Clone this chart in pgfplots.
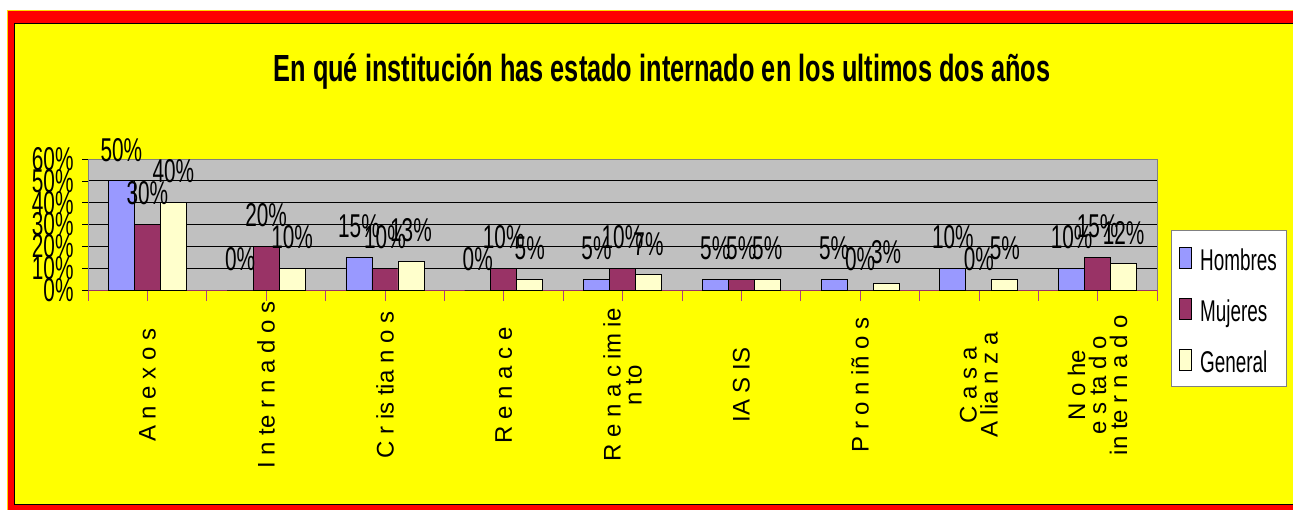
\documentclass[border=0pt]{standalone}
\usepackage{fontspec}
\setmainfont{Liberation Sans}
\newfontfamily\narrowfont[FakeStretch=0.63]{Liberation Sans}
\newfontfamily\titlefont[FakeStretch=0.67]{Liberation Sans}
\usepackage{pgfplots}
\usepackage{pgfplotstable}
\pgfplotsset{compat=1.18}
\definecolor{hom}{HTML}{9999FF}
\definecolor{muj}{HTML}{993366}
\definecolor{gen}{HTML}{FFFFCC}
\definecolor{plotbg}{HTML}{C0C0C0}
\definecolor{ylw}{HTML}{FFFF00}
\definecolor{bordergray}{HTML}{808080}
\definecolor{tickpurple}{HTML}{B04080}

\pgfplotstableread{
x hom muj gen
0 50 30 40
1 0 20 10
2 15 10 13
3 0 10 5
4 5 10 7
5 5 5 5
6 5 0 3
7 10 0 5
8 10 15 12
}\datatable

\begin{document}
\begin{tikzpicture}[x=1pt,y=1pt]
\useasboundingbox (0pt,0pt) rectangle (1293pt,509pt);
\begin{scope}
\clip (0pt,0pt) rectangle (1293pt,509pt);
\fill[white] (0pt,0pt) rectangle (1293pt,509pt);
\fill[ylw!70!orange] (6.5pt,-20pt) rectangle (1320pt,498.5pt);
\fill[red] (7.5pt,-20pt) rectangle (1320pt,497.5pt);
\filldraw[fill=ylw, draw=black, line width=1.2pt] (14.5pt,4.5pt) rectangle (1320pt,485.5pt);
\end{scope}
\node[anchor=base, font=\titlefont\bfseries\fontsize{37.8}{38}\selectfont] at (662pt,427pt)
  {En qué institución has estado internado en los ultimos dos años};
\begin{axis}[
  at={(88pt,219pt)}, anchor=south west,
  width=1069pt, height=131pt, scale only axis,
  clip=false,
  axis background/.style={fill=plotbg},
  ybar=0pt, bar width=26pt,
  xmin=-0.5, xmax=8.5, ymin=0, ymax=60,
  axis x line*=bottom, axis y line*=left,
  x axis line style={draw=muj, line width=0.8pt},
  y axis line style={draw=bordergray, line width=0.8pt},
  tick align=outside,
  xtick={-0.5,0.5,...,8.5}, xticklabels={},
  xtick style={draw=tickpurple, line width=0.6pt, /pgfplots/major tick length=11pt},
  extra x ticks={0,1,2,3,4,5,6,7,8},
  extra x tick labels={{A n e x o s},{I n te r n a d o s},{C r is tia n o s},{R e n a c e},{R e n a c im ie\\n to},{IA S IS},{P r o n iñ o s},{C a s a\\A lia n z a},{N o he\\e s ta d o\\in te r n a d o}},
  extra x tick style={grid=none, /pgfplots/major tick length=0pt,
    tick label style={yshift=-95pt, rotate=90, anchor=center, align=center, inner sep=0pt,
      font=\fontsize{24}{21}\selectfont}},
  ytick={0,10,...,60},
  ytick style={draw=black, line width=0.6pt, /pgfplots/major tick length=6pt},
  yticklabel={\pgfmathprintnumber{\tick}\%},
  y tick label style={font=\narrowfont\fontsize{33}{33}\selectfont, inner sep=0pt, anchor=east, xshift=-10pt},
  /pgf/number format/assume math mode=true,
  ymajorgrids, major grid style={draw=black, line width=0.7pt},
  nodes near coords={\pgfmathprintnumber{\pgfplotspointmeta}\%},
  nodes near coords style={font=\narrowfont\fontsize{33}{33}\selectfont, inner sep=0pt, anchor=south, yshift=19pt},
  legend style={at={(1.0131,0.458)}, anchor=north west, draw=bordergray, fill=white, line width=0.8pt,
    inner xsep=8pt, inner ysep=8pt, row sep=13pt,
    nodes={text height=30pt, text depth=4pt},
    font=\narrowfont\fontsize{30}{30}\selectfont,
    /tikz/every odd column/.style={column sep=6pt}},
  legend cell align=left,
  legend image code/.code={\draw[#1, draw=black, line width=0.8pt] (0pt,-11pt) rectangle (12pt,10pt);},
]
\addplot[fill=hom, draw=black, line width=0.8pt] table[x=x, y=hom] {\datatable};
\addplot[fill=muj, draw=black, line width=0.8pt] table[x=x, y=muj] {\datatable};
\addplot[fill=gen, draw=black, line width=0.8pt] table[x=x, y=gen] {\datatable};
\legend{Hombres, Mujeres, General}
\draw[bordergray, line width=0.8pt] (rel axis cs:0,1) -- (rel axis cs:1,1) -- (rel axis cs:1,0);
\end{axis}
\end{tikzpicture}
\end{document}
